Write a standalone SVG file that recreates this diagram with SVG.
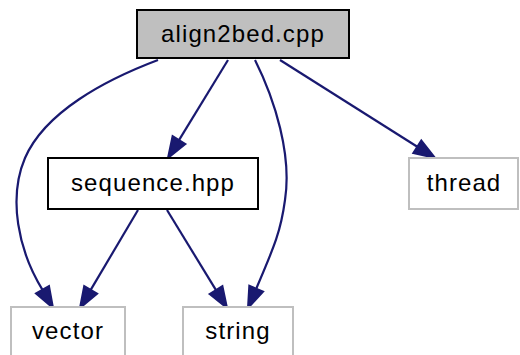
<svg xmlns="http://www.w3.org/2000/svg" width="520" height="355" viewBox="0 0 520 355">
<style>
.lbl{font-family:"Liberation Sans",Arial,sans-serif;font-size:24px;letter-spacing:1.1px;fill:#000;text-anchor:middle}
.main{fill:#bfbfbf;stroke:#000;stroke-width:2}
.int{fill:#fff;stroke:#000;stroke-width:2}
.ext{fill:#fff;stroke:#bfbfbf;stroke-width:2}
.edge path{fill:none;stroke:#191970;stroke-width:2.2}
.edge polygon{fill:#191970;stroke:#191970;stroke-width:2}
</style>
<rect width="520" height="355" fill="#fff"/>
<g id="edges" class="edge">
<path d="M158,60 C105,80 45,112 25,158 C8,198 18,250 42.5,289.8"/>
<polygon points="36,293.5 53,308 49,286"/>
<path d="M138,210 L90.7,289.9"/>
<polygon points="97.1,293.7 80,308 84.2,286.1"/>
<path d="M167,210 L216,290.1"/>
<polygon points="209.6,294 227,308 222.4,286.2"/>
<path d="M255,60 C275,100 292,155 285,200 C281,230 275,245 256.2,288.7"/>
<polygon points="263.1,291.6 248,308 249.3,285.8"/>
<path d="M228,60 L179,140.1"/>
<polygon points="185.4,144 168,158 172.6,136.2"/>
<path d="M280,60 L417.3,146.8"/>
<polygon points="413.3,153.1 435,158 421.3,140.5"/>
</g>
<g id="node-align2bed">
<rect class="main" x="137" y="10" width="212" height="48"/>
<text class="lbl" x="243" y="42">align2bed.cpp</text>
</g>
<g id="node-sequence">
<rect class="int" x="48" y="158" width="210" height="51"/>
<text class="lbl" x="153" y="191">sequence.hpp</text>
</g>
<g id="node-thread">
<rect class="ext" x="409" y="158" width="109" height="51"/>
<text class="lbl" x="464" y="191">thread</text>
</g>
<g id="node-vector">
<rect class="ext" x="11" y="307" width="114" height="51"/>
<text class="lbl" x="68" y="339">vector</text>
</g>
<g id="node-string">
<rect class="ext" x="183" y="307" width="110" height="51"/>
<text class="lbl" x="238" y="339">string</text>
</g>
</svg>
